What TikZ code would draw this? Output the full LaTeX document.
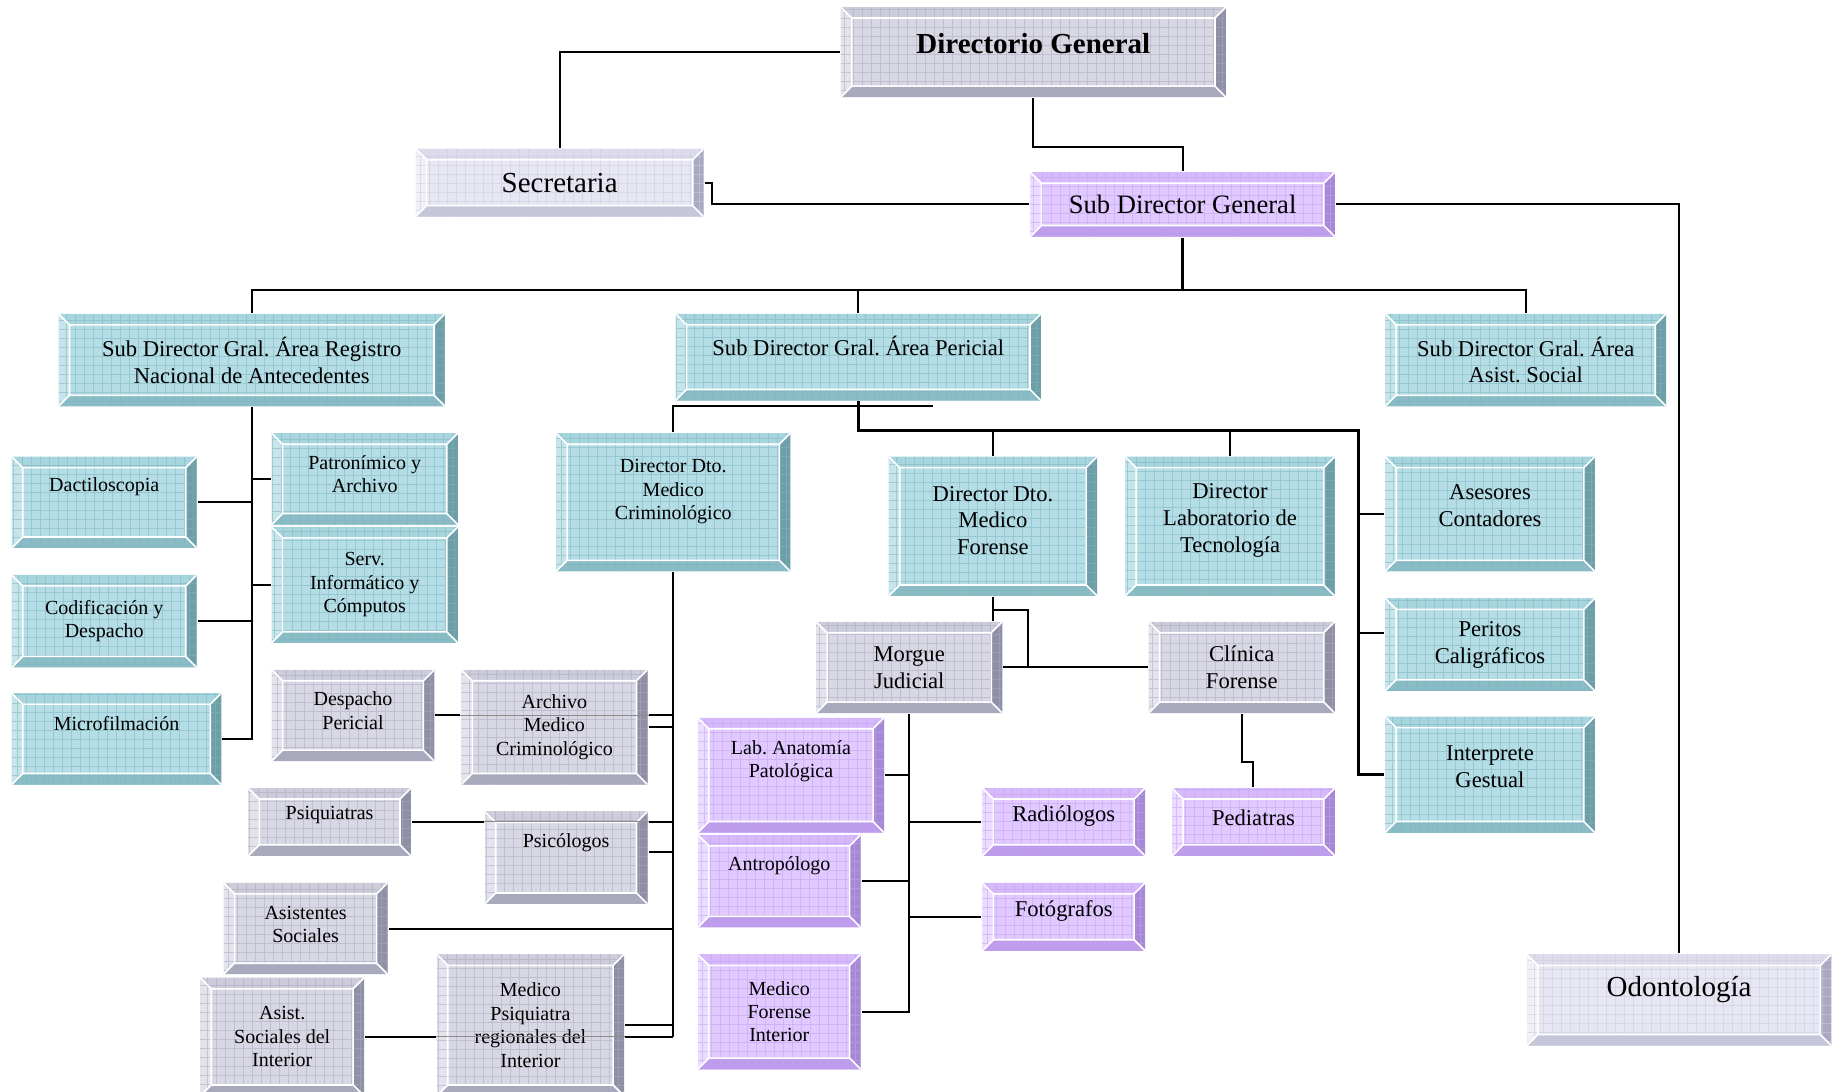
\documentclass[tikz,border=0pt]{standalone}
\usepackage{fontspec}
\setmainfont{Liberation Serif}
\usetikzlibrary{calc}
\frenchspacing

\newcommand{\un}{0.5855pt}
\newcommand{\bevw}{5.5pt}

% box colours: face, top, left, right, bottom, grid
\definecolor{cyface}{HTML}{B5DDE5}
\definecolor{cytop}{HTML}{A7D5DD}
\definecolor{cyleft}{HTML}{C5E5EB}
\definecolor{cyright}{HTML}{6E9FA8}
\definecolor{cybot}{HTML}{8ABCC6}
\definecolor{cygrid}{HTML}{7FB5BF}
\definecolor{grface}{HTML}{D8D8E4}
\definecolor{grtop}{HTML}{CCCCDB}
\definecolor{grleft}{HTML}{E3E3EC}
\definecolor{grright}{HTML}{8F8FA5}
\definecolor{grbot}{HTML}{A9A9BD}
\definecolor{grgrid}{HTML}{ABABBF}
\definecolor{viface}{HTML}{E1CAFF}
\definecolor{vitop}{HTML}{D6B9FA}
\definecolor{vileft}{HTML}{ECDCFF}
\definecolor{viright}{HTML}{A689D4}
\definecolor{vibot}{HTML}{BE9CEC}
\definecolor{vigrid}{HTML}{C4A2F0}
\definecolor{paface}{HTML}{E7E7F3}
\definecolor{patop}{HTML}{DCDCEC}
\definecolor{paleft}{HTML}{F0F0F8}
\definecolor{paright}{HTML}{A9A9C1}
\definecolor{pabot}{HTML}{C6C6DA}
\definecolor{pagrid}{HTML}{CACADF}

\tikzset{
    bevel/.style={
        rectangle, inner sep=0pt, align=center,
        path picture={
            \coordinate (bvA) at (path picture bounding box.north west);
            \coordinate (bvB) at (path picture bounding box.north east);
            \coordinate (bvC) at (path picture bounding box.south east);
            \coordinate (bvD) at (path picture bounding box.south west);
            \coordinate (bva) at ([shift={(\bevw,-\bevw)}]bvA);
            \coordinate (bvb) at ([shift={(-\bevw,-\bevw)}]bvB);
            \coordinate (bvc) at ([shift={(-\bevw,\bevw)}]bvC);
            \coordinate (bvd) at ([shift={(\bevw,\bevw)}]bvD);
            \fill[#1face] (bvA) rectangle (bvC);
            \fill[#1top] (bvA) -- (bvB) -- (bvb) -- (bva) -- cycle;
            \fill[#1right] (bvB) -- (bvC) -- (bvc) -- (bvb) -- cycle;
            \fill[#1bot] (bvC) -- (bvD) -- (bvd) -- (bvc) -- cycle;
            \fill[#1left] (bvD) -- (bvA) -- (bva) -- (bvd) -- cycle;
            \draw[#1grid, opacity=0.55, line width=0.35pt, step=4.5pt] (bvD) grid (bvB);
            \draw[white, line width=0.8pt] (bva) rectangle (bvc)
                (bvA) -- (bva) (bvB) -- (bvb) (bvC) -- (bvc) (bvD) -- (bvd);
        }
    },
    cybox/.style={bevel=cy},
    grbox/.style={bevel=gr},
    vibox/.style={bevel=vi},
    pabox/.style={bevel=pa}
}

\begin{document}
\begin{tikzpicture}[
    x=\un, y=-\un,
    line width=1pt,
    sz/.style 2 args={minimum width=#1*\un, minimum height=#2*\un},
    lift/.style={text depth=#1},
    small/.style={font=\fontsize{10}{11.7}\selectfont},
    mid/.style={font=\fontsize{11.3}{13.4}\selectfont},
    big/.style={font=\fontsize{14.5}{17}\selectfont},
    bus/.style={line width=1.6pt},
    thru/.style={draw=black!45, line width=0.5pt}
]
    \useasboundingbox (0,0) rectangle (1568,932);
    \clip (0,0) rectangle (1568,932);

    % Top
    \node[grbox, sz={329}{77}, lift=8.2pt, font=\fontsize{14.5}{17}\selectfont\bfseries] (dg) at (882.5,44.5) {Directorio General};
    \node[pabox, big, sz={246}{58}] (sec) at (478,156) {Secretaria};
    \node[vibox, sz={260}{55}, font=\fontsize{13.3}{15}\selectfont] (sdg) at (1010,174.5) {Sub Director General};
    \node[pabox, big, sz={260}{78}, lift=13.8pt] (odon) at (1434,854) {Odontología};

    % Sub directors
    \node[cybox, mid, sz={330}{79}] (srn) at (215,307.5) {Sub Director Gral. Área Registro\\Nacional de Antecedentes};
    \node[cybox, mid, sz={312}{74}, lift=11.7pt] (sper) at (733,305) {Sub Director Gral. Área Pericial};
    \node[cybox, mid, sz={240}{79}] (sas) at (1303,307.5) {Sub Director Gral. Área\\Asist. Social};

    % Registro
    \node[cybox, small, sz={158}{78}, lift=17.4pt] (dact) at (89,429) {Dactiloscopia};
    \node[cybox, small, sz={158}{79}] (cod) at (89,530.5) {Codificación y\\Despacho};
    \node[cybox, small, sz={179}{78}, lift=15.2pt] (micro) at (99.5,631) {Microfilmación};
    \node[cybox, small, sz={159}{78}, lift=4.7pt] (patr) at (311.5,409) {Patronímico y\\Archivo};
    \node[cybox, small, sz={159}{99}] (serv) at (311.5,499.5) {Serv.\\Informático y\\Cómputos};

    % Pericial
    \node[cybox, small, sz={200}{118}, lift=12.7pt] (dmc) at (575,429) {Director Dto.\\Medico\\Criminológico};
    \node[cybox, mid, sz={178}{119}, lift=5.9pt] (dmf) at (848,449.5) {Director Dto.\\Medico\\Forense};
    \node[cybox, mid, sz={179}{119}, lift=8.4pt] (dlt) at (1050.5,449.5) {Director\\Laboratorio de\\Tecnología};
    \node[cybox, mid, sz={179}{98}, lift=8.2pt] (ases) at (1272.5,439) {Asesores\\Contadores};
    \node[cybox, mid, sz={179}{79}] (perit) at (1272.5,550.5) {Peritos\\Caligráficos};
    \node[cybox, mid, sz={179}{99}, lift=8.2pt] (interp) at (1272.5,661.5) {Interprete\\Gestual};

    % Medico Criminologico
    \node[grbox, small, sz={139}{78}, lift=4.7pt] (despp) at (301.5,611) {Despacho\\Pericial};
    \node[grbox, small, sz={159}{98}] (archmc) at (473.5,621) {Archivo\\Medico\\Criminológico};
    \node[grbox, small, sz={139}{58}, lift=9.2pt] (psiq) at (281.5,702) {Psiquiatras};
    \node[grbox, small, sz={139}{79}, lift=17.4pt] (psic) at (483.5,732.5) {Psicólogos};
    \node[grbox, small, sz={140}{78}, lift=4pt] (asists) at (261,793) {Asistentes\\Sociales};
    \node[grbox, small, sz={140}{101}] (asistsi) at (241,885.5) {Asist.\\Sociales del\\Interior};
    \node[grbox, small, sz={160}{121}] (mpri) at (453,875.5) {Medico\\Psiquiatra\\regionales del\\Interior};

    % Medico Forense
    \node[grbox, mid, sz={159}{78}] (morgue) at (776.5,570) {Morgue\\Judicial};
    \node[grbox, mid, sz={159}{78}] (clin) at (1060.5,570) {Clínica\\Forense};
    \node[vibox, small, sz={159}{98}, lift=16.2pt] (labap) at (675.5,662) {Lab. Anatomía\\Patológica};
    \node[vibox, small, sz={139}{79}, lift=17.4pt] (antro) at (665.5,752.5) {Antropólogo};
    \node[vibox, small, sz={139}{98}] (mfi) at (665.5,864) {Medico\\Forense\\Interior};
    \node[vibox, mid, sz={139}{58}, lift=8.3pt] (radi) at (908.5,702) {Radiólogos};
    \node[vibox, mid, sz={139}{58}, lift=8.3pt] (foto) at (908.5,783) {Fotógrafos};
    \node[vibox, mid, sz={139}{58}, lift=4.7pt] (pedi) at (1070.5,702) {Pediatras};

    % Top links
    \draw (dg.west) -| (sec.north);
    \draw (dg.south) -- ++(0,42) -| (sdg.north);
    \draw (sec.east) -- ++(6,0) |- (sdg.west);
    \draw (sdg.east) -| (odon.north);
    \draw[bus] (sdg.south) -- ++(0,45) coordinate (hub);
    \draw (srn.north) |- (hub) -| (sas.north);
    \draw (sper.north) -- (sper.north |- hub);

    % Registro links
    \draw (srn.south) |- (micro.east);
    \draw (dact.east) -- (dact.east -| srn.south);
    \draw (cod.east) -- (cod.east -| srn.south);
    \draw (patr.west) -- (patr.west -| srn.south);
    \draw (serv.west) -- (serv.west -| srn.south);

    % Pericial links
    \draw (dmc.north) -- ++(0,-22) -- ++(222,0);
    \coordinate (pbus) at (1160,368);
    \draw[bus] (sper.south) |- (pbus) |- (interp.west);
    \draw (dmf.north) -- (dmf.north |- pbus);
    \draw (dlt.north) -- (dlt.north |- pbus);
    \draw (ases.west) -- (ases.west -| pbus);
    \draw ([yshift=6pt]perit.west) -- ([yshift=6pt]perit.west -| pbus);

    % Criminologico links
    \draw (dmc.south) -- (dmc.south |- asistsi.east);
    \draw (despp.east) -- (archmc.west |- despp.east);
    \draw[thru] (archmc.west |- despp.east) -- (archmc.east |- despp.east);
    \draw (archmc.east |- despp.east) -- (despp.east -| dmc.south);
    \draw (archmc.east) -- (archmc.east -| dmc.south);
    \draw (psiq.east) -- (psic.west |- psiq.east);
    \draw[thru] (psic.west |- psiq.east) -- (psic.east |- psiq.east);
    \draw (psic.east |- psiq.east) -- (psiq.east -| dmc.south);
    \draw ([yshift=3pt]psic.east) -- ([yshift=3pt]psic.east -| dmc.south);
    \draw (asists.east) -- (asists.east -| dmc.south);
    \draw (asistsi.east) -- (mpri.west |- asistsi.east);
    \draw[thru] (mpri.west |- asistsi.east) -- (mpri.east |- asistsi.east);
    \draw (mpri.east |- asistsi.east) -- (asistsi.east -| dmc.south);
    \draw (mpri.east) -- (mpri.east -| dmc.south);

    % Forense links
    \draw (dmf.south) -- (dmf.south |- morgue.north);
    \draw (dmf.south) ++(0,11) -- ++(30,0) |- (morgue.east);
    \draw (morgue.east) -- (clin.west);
    \draw (morgue.south) |- (mfi.east);
    \draw (labap.east) -- (labap.east -| morgue.south);
    \draw (antro.east) -- (antro.east -| morgue.south);
    \draw (radi.west) -- (radi.west -| morgue.south);
    \draw (foto.west) -- (foto.west -| morgue.south);
    \draw (clin.south) -- ++(0,41) -| (pedi.north);

\end{tikzpicture}
\end{document}
